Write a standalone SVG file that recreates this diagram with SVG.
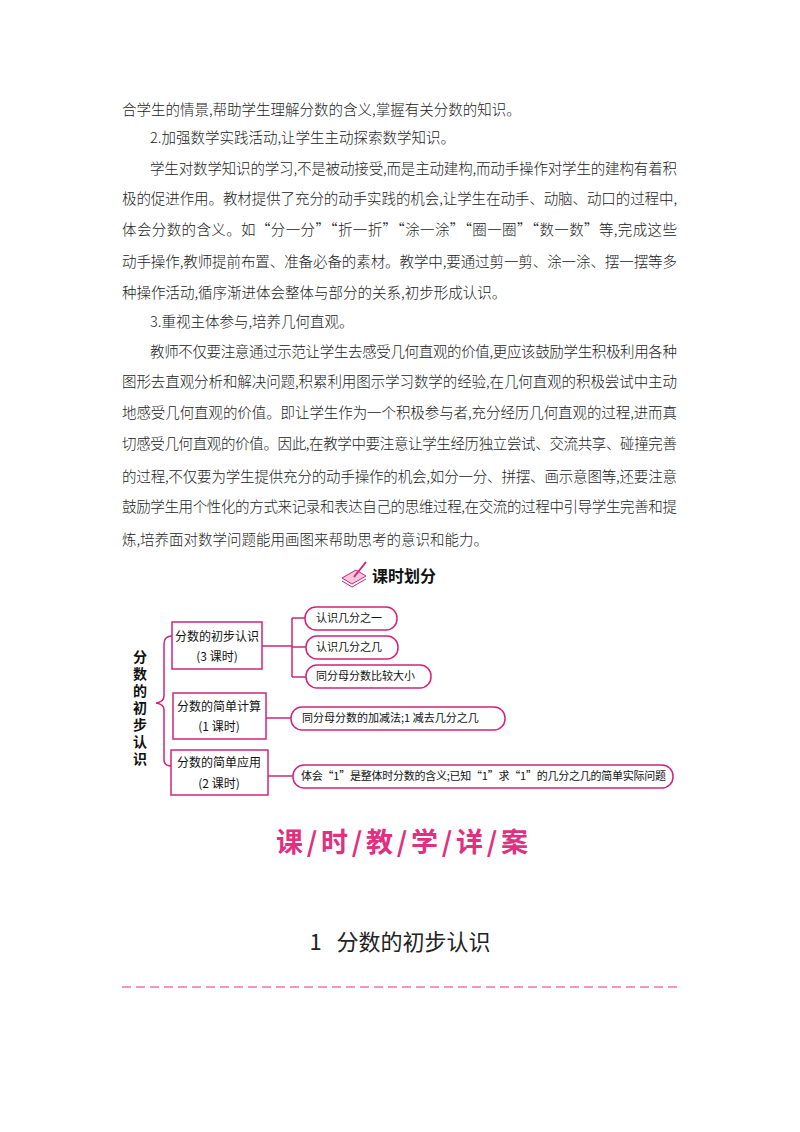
<svg xmlns="http://www.w3.org/2000/svg" width="800" height="1132" viewBox="0 0 800 1132">
<style>
.b{font-family:"Noto Sans CJK SC","Noto Sans CJK JP",sans-serif;font-size:14.5px;fill:#222;font-weight:300}
.n{font-family:"Noto Sans CJK SC",sans-serif;font-size:12px;fill:#111;text-anchor:middle}
.p{font-family:"Noto Sans CJK SC",sans-serif;font-size:11px;fill:#111}
.box{fill:#fff;stroke:#d0247a;stroke-width:1.5}
.ln{fill:none;stroke:#d0247a;stroke-width:1.5}
</style>
<rect width="800" height="1132" fill="#fff"/>
<g class="b">
<text x="122" y="115">合学生的情景,帮助学生理解分数的含义,掌握有关分数的知识。</text>
<text x="150" y="143">2.加强数学实践活动,让学生主动探索数学知识。</text>
<text x="150" y="174" textLength="527" lengthAdjust="spacing">学生对数学知识的学习,不是被动接受,而是主动建构,而动手操作对学生的建构有着积</text>
<text x="122" y="204" textLength="555" lengthAdjust="spacing">极的促进作用。教材提供了充分的动手实践的机会,让学生在动手、动脑、动口的过程中,</text>
<text x="122" y="235" textLength="555" lengthAdjust="spacing">体会分数的含义。如“分一分”“折一折”“涂一涂”“圈一圈”“数一数”等,完成这些</text>
<text x="122" y="267" textLength="555" lengthAdjust="spacing">动手操作,教师提前布置、准备必备的素材。教学中,要通过剪一剪、涂一涂、摆一摆等多</text>
<text x="122" y="298">种操作活动,循序渐进体会整体与部分的关系,初步形成认识。</text>
<text x="150" y="327">3.重视主体参与,培养几何直观。</text>
<text x="150" y="357" textLength="527" lengthAdjust="spacing">教师不仅要注意通过示范让学生去感受几何直观的价值,更应该鼓励学生积极利用各种</text>
<text x="122" y="387" textLength="555" lengthAdjust="spacing">图形去直观分析和解决问题,积累利用图示学习数学的经验,在几何直观的积极尝试中主动</text>
<text x="122" y="418" textLength="555" lengthAdjust="spacing">地感受几何直观的价值。即让学生作为一个积极参与者,充分经历几何直观的过程,进而真</text>
<text x="122" y="449" textLength="555" lengthAdjust="spacing">切感受几何直观的价值。因此,在教学中要注意让学生经历独立尝试、交流共享、碰撞完善</text>
<text x="122" y="482" textLength="555" lengthAdjust="spacing">的过程,不仅要为学生提供充分的动手操作的机会,如分一分、拼摆、画示意图等,还要注意</text>
<text x="122" y="512" textLength="555" lengthAdjust="spacing">鼓励学生用个性化的方式来记录和表达自己的思维过程,在交流的过程中引导学生完善和提</text>
<text x="122" y="545">炼,培养面对数学问题能用画图来帮助思考的意识和能力。</text>
</g>
<g id="header">
<path d="M342 578 L356 570 L366 576 L352 584 Z" fill="#f4c6dc" stroke="#d0247a" stroke-width="1"/>
<path d="M342 581 L352 587 L366 579" fill="none" stroke="#d0247a" stroke-width="1"/>
<path d="M354 577 L366 562" stroke="#d0247a" stroke-width="2"/>
<text x="372" y="582" font-family="Noto Sans CJK SC,sans-serif" font-size="16" font-weight="700" fill="#111">课时划分</text>
</g>
<g id="title-v">
<text x="140" y="650" writing-mode="tb" letter-spacing="3" font-family="Noto Sans CJK SC,sans-serif" font-size="14" font-weight="700" fill="#111">分数的初步认识</text>
</g>
<g id="connectors" class="ln">
<path d="M172 636 Q164 636 164 644 L164 696 Q164 702 156 703 Q164 704 164 710 L164 760 Q164 766 172 766"/>
<path d="M262 646 L292 646 M292 618 L292 677 M292 618 L305 618 M292 677 L306 677 M292 647 L306 647"/>
<path d="M266 718 L291 718"/>
<path d="M268 776 L293 776"/>
</g>
<g id="box1"><rect class="box" x="172" y="622" width="90" height="47"/><text class="n" x="217" y="641">分数的初步认识</text><text class="n" x="217" y="661">(3 课时)</text></g>
<g id="box2"><rect class="box" x="173" y="693" width="93" height="46"/><text class="n" x="219" y="711">分数的简单计算</text><text class="n" x="219" y="731">(1 课时)</text></g>
<g id="box3"><rect class="box" x="171" y="750" width="97" height="45"/><text class="n" x="219" y="767">分数的简单应用</text><text class="n" x="219" y="788">(2 课时)</text></g>
<g id="p1"><rect class="box" x="305" y="607" width="92" height="23" rx="11"/><text class="p" x="316" y="622">认识几分之一</text></g>
<g id="p2"><rect class="box" x="306" y="636" width="92" height="23" rx="11"/><text class="p" x="316" y="651">认识几分之几</text></g>
<g id="p3"><rect class="box" x="306" y="665" width="125" height="23" rx="11"/><text class="p" x="316" y="680">同分母分数比较大小</text></g>
<g id="p4"><rect class="box" x="291" y="707" width="214" height="23" rx="11"/><text class="p" x="302" y="722">同分母分数的加减法;1 减去几分之几</text></g>
<g id="p5"><rect class="box" x="293" y="765" width="380" height="23" rx="11"/><text class="p" x="301" y="780" textLength="365" lengthAdjust="spacing">体会“1”是整体时分数的含义;已知“1”求“1”的几分之几的简单实际问题</text></g>
<text x="276" y="852" textLength="252" lengthAdjust="spacing" font-family="Noto Sans CJK SC,sans-serif" font-size="27" font-weight="700" fill="#e0307f">课/时/教/学/详/案</text>
<text x="400" y="950" font-family="Noto Sans CJK SC,sans-serif" font-size="22" fill="#222" text-anchor="middle" xml:space="preserve">1   分数的初步认识</text>
<line x1="122" y1="987" x2="677" y2="987" stroke="#e0307f" stroke-width="1.2" stroke-dasharray="9,5"/>
</svg>
